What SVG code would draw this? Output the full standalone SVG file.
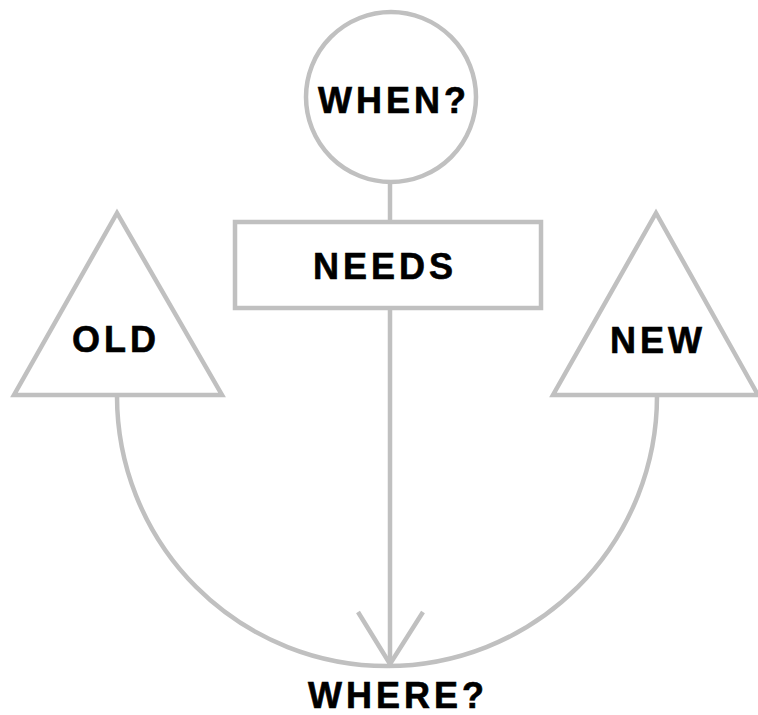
<svg xmlns="http://www.w3.org/2000/svg" width="758" height="715" viewBox="0 0 758 715">
<style>
.s{fill:#fff;stroke:#c0c0c0;stroke-width:4.5}
.c{fill:none;stroke:#c0c0c0;stroke-width:4.5}
.t{font-family:"Liberation Sans",Arial,sans-serif;font-weight:bold;font-size:36px;letter-spacing:4px;fill:#000;stroke:#000;stroke-width:0.6;text-anchor:middle}
</style>
<rect width="758" height="715" fill="#fff"/>
<g id="connectors">
<line class="c" x1="390" y1="183" x2="390" y2="222"/>
<path class="c" d="M117,396 A270,270 0 0 0 657,396"/>
<line class="c" x1="390" y1="308" x2="390" y2="664"/>
<polyline class="c" points="358,612 390,664 423,612"/>
</g>
<g id="when">
<circle class="s" cx="391" cy="97" r="85"/>
<text class="t" x="394" y="113">WHEN?</text>
</g>
<g id="needs">
<rect class="s" x="235" y="222" width="306" height="86"/>
<text class="t" x="385" y="279">NEEDS</text>
</g>
<g id="old">
<polygon class="s" points="117,213 14,395 222,395"/>
<text class="t" x="116" y="352">OLD</text>
</g>
<g id="new">
<polygon class="s" points="656,213 553,395 758,395"/>
<text class="t" x="658" y="353">NEW</text>
</g>
<g id="where">
<text class="t" x="398" y="708">WHERE?</text>
</g>
</svg>
